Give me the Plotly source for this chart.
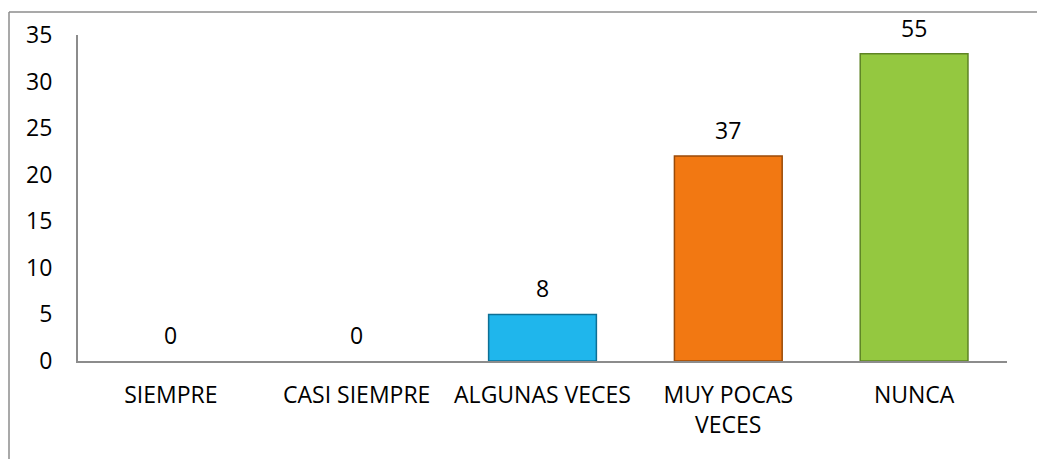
import plotly.graph_objects as go

# Frecuencias por categoria y porcentaje mostrado sobre cada barra
categorias = ['SIEMPRE', 'CASI SIEMPRE', 'ALGUNAS VECES', 'MUY POCAS<br>VECES', 'NUNCA']
frecuencia = [0, 0, 5, 22, 33]
porcentaje = ['0', '0', '8', '37', '55']
colores = ['#1FB6EC', '#1FB6EC', '#1FB6EC', '#F27812', '#94C840']
bordes = ['#0E6F95', '#0E6F95', '#0E6F95', '#9A4A08', '#5E8424']
y_ticks = [0, 5, 10, 15, 20, 25, 30, 35]

fuente = 'Open Sans'
tam = 23

fig = go.Figure()
fig.add_trace(go.Bar(
    x=categorias, y=frecuencia,
    marker=dict(color=colores,
                line=dict(color=bordes, width=[0 if v == 0 else 1.5 for v in frecuencia])),
    width=0.58,
    hoverinfo='skip'
))

# etiquetas de porcentaje sobre las barras
for cat, val, txt in zip(categorias, frecuencia, porcentaje):
    fig.add_annotation(
        x=cat, y=val, text=txt, showarrow=False,
        yanchor='bottom', yshift=8,
        font=dict(family=fuente, size=tam, color='#000000')
    )

# marco exterior (solo lado superior e izquierdo visibles)
fig.add_shape(type='line', xref='paper', yref='paper',
              x0=-69 / 929, x1=1.1, y0=1 + 23 / 326, y1=1 + 23 / 326,
              line=dict(color='#8C8C8C', width=1.5))
fig.add_shape(type='line', xref='paper', yref='paper',
              x0=-69 / 929, x1=-69 / 929, y0=1 + 23 / 326, y1=-0.5,
              line=dict(color='#8C8C8C', width=1.5))

# la pagina html tiene 8 px de margen en el body
fig.update_layout(
    width=1045, height=459,
    margin=dict(l=70, r=46, t=27, b=106),
    paper_bgcolor='white', plot_bgcolor='white',
    showlegend=False,
    font=dict(family=fuente, size=tam, color='#000000'),
    xaxis=dict(
        showline=True, linecolor='#8C8C8C', linewidth=2,
        showgrid=False, ticks='', tickangle=0,
        ticklabelstandoff=12, automargin=False,
        tickfont=dict(family=fuente, size=tam)
    ),
    yaxis=dict(
        range=[0, 35], tickvals=y_ticks,
        showline=True, linecolor='#8C8C8C', linewidth=2,
        showgrid=False, zeroline=False, ticks='',
        ticklabelstandoff=19, automargin=False,
        tickfont=dict(family=fuente, size=tam)
    )
)

fig.write_html('out.html')
